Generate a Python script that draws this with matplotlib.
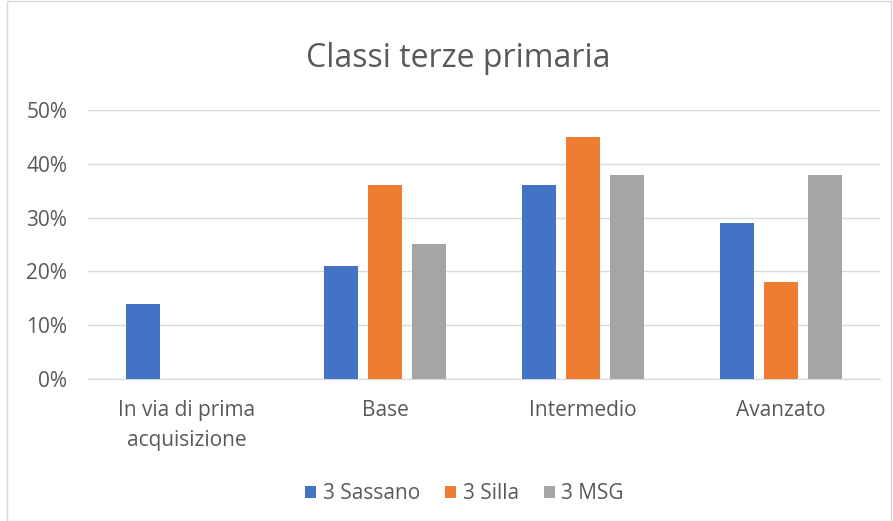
import numpy as np
import matplotlib.pyplot as plt
from matplotlib.ticker import FuncFormatter
from matplotlib.patches import Rectangle

# Dati
categorie = ["In via di prima\nacquisizione", "Base", "Intermedio", "Avanzato"]
sassano = [0.14, 0.21, 0.36, 0.29]
silla = [0, 0.36, 0.45, 0.18]
msg = [0, 0.25, 0.38, 0.38]
serie = ["3 Sassano", "3 Silla", "3 MSG"]
colori = ["#4472C4", "#ED7D31", "#A5A5A5"]

plt.rcParams['font.family'] = ['Open Sans', 'DejaVu Sans']
grigio = "#595959"

fig = plt.figure(figsize=(8.93, 5.21), dpi=100)
ax = fig.add_axes([0.0985, 0.2726, 0.8870, 0.5164])

x = np.arange(len(categorie))
larg = 0.172
passo = 0.222
for i, (valori, nome, col) in enumerate(zip([sassano, silla, msg], serie, colori)):
    ax.bar(x + (i - 1) * passo, valori, width=larg, color=col, label=nome, zorder=3)

ax.set_xlim(-0.5, len(categorie) - 0.5)
ax.set_ylim(0, 0.5)
ax.set_yticks(np.arange(0, 0.51, 0.1))
ax.yaxis.set_major_formatter(FuncFormatter(lambda v, p: f"{v * 100:.0f}%"))
ax.set_xticks(x)
ax.set_xticklabels(categorie, linespacing=1.55)
ax.tick_params(axis='both', length=0, colors=grigio, labelsize=15)
ax.tick_params(axis='x', pad=15)
ax.tick_params(axis='y', pad=15)
ax.grid(axis='y', color="#D9D9D9", linewidth=1, zorder=0)
for s in ['top', 'right', 'left']:
    ax.spines[s].set_visible(False)
ax.spines['bottom'].set_color("#D9D9D9")

fig.text(0.513, 0.888, "Classi terze primaria", ha='center', va='center',
         fontsize=23, color=grigio)

leg = fig.legend(loc='center', bbox_to_anchor=(0.52, 0.052), ncol=3, frameon=False,
                 fontsize=15, handlelength=0.55, handleheight=0.55, handletextpad=0.3,
                 columnspacing=1.2)
for t in leg.get_texts():
    t.set_color(grigio)

# bordo del grafico
fig.patches.append(Rectangle((0.008, 0.0), 0.99, 0.998, transform=fig.transFigure,
                             fill=False, edgecolor="#D9D9D9", linewidth=1))

fig.savefig("out.png", dpi=100)
